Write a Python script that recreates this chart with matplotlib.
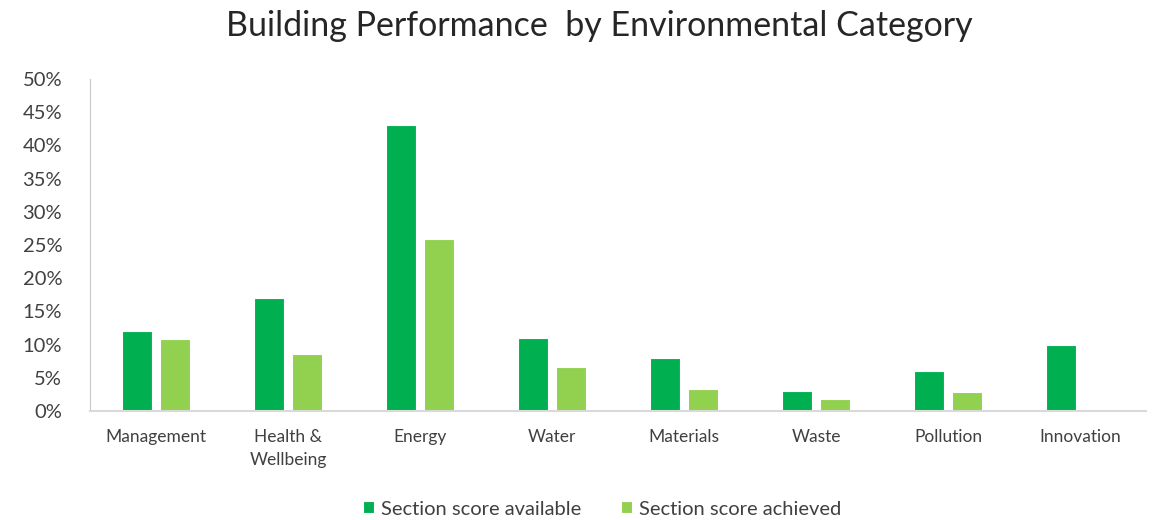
import numpy as np
import matplotlib.pyplot as plt
from matplotlib.ticker import FuncFormatter, MultipleLocator

plt.rcParams['font.family'] = ['Lato', 'DejaVu Sans']

categories = ['Management', 'Health &\nWellbeing', 'Energy', 'Water',
              'Materials', 'Waste', 'Pollution', 'Innovation']
available = [12.0, 17.0, 43.0, 11.0, 8.0, 3.0, 6.0, 10.0]
achieved = [10.9, 8.6, 25.9, 6.7, 3.3, 1.8, 2.9, 0.0]

fig = plt.figure(figsize=(11.57, 5.2), dpi=100)
ax = fig.add_axes([90 / 1157, 1 - 411 / 520, 1056 / 1157, 332 / 520])

x = np.arange(len(categories))
w = 0.23
off = 0.145
ax.bar(x - off, available, w, color='#00B050', edgecolor='white', linewidth=0.8,
       label='Section score available')
ax.bar(x + off, achieved, w, color='#92D050', edgecolor='white', linewidth=0.8,
       label='Section score achieved')

ax.set_xlim(-0.5, len(categories) - 0.5)
ax.set_ylim(0, 50)
ax.yaxis.set_major_locator(MultipleLocator(5))
ax.yaxis.set_major_formatter(FuncFormatter(lambda v, p: f'{v:.0f}%'))
ax.set_xticks(x)
ax.set_xticklabels(categories, fontsize=12.5, color='#404040', va='top', linespacing=1.5)
ax.tick_params(axis='y', labelsize=14.5, labelcolor='#404040', length=0, pad=20)
ax.tick_params(axis='x', length=0, pad=13)

for s in ['top', 'right']:
    ax.spines[s].set_visible(False)
ax.spines['left'].set_color('#C8C8C8')
ax.spines['bottom'].set_color('#D9D9D9')
ax.spines['bottom'].set_linewidth(1.5)

fig.text(599 / 1157, 0.98, 'Building Performance  by Environmental Category', fontsize=24.5,
         color='#262626', ha='center', va='top')

ax.legend(loc='upper center', bbox_to_anchor=(0.485, -0.215), ncol=2, frameon=False,
          fontsize=14.5, handlelength=0.55, handleheight=0.55, handletextpad=0.35,
          columnspacing=2.0, labelcolor='#404040')

fig.savefig('out.png', dpi=100)
